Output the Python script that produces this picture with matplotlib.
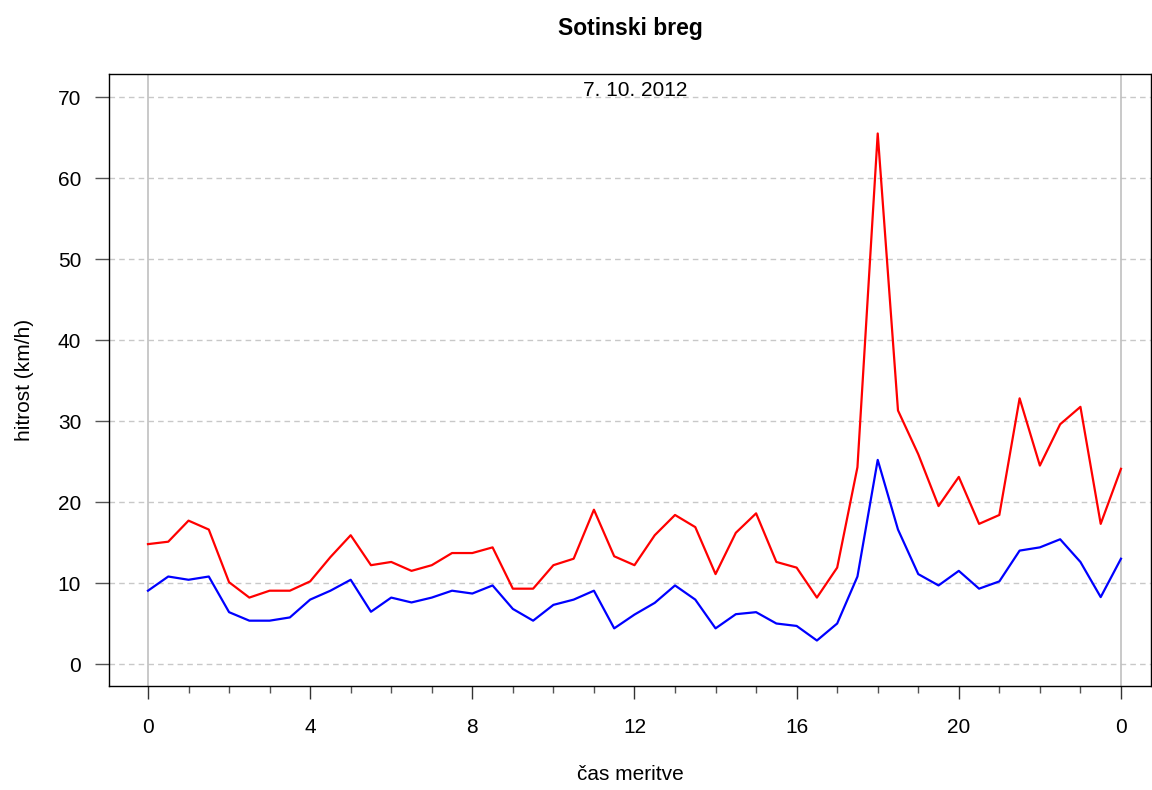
import numpy as np
import matplotlib
matplotlib.use("Agg")
import matplotlib.pyplot as plt

plt.rcParams['font.family'] = ['Liberation Sans', 'DejaVu Sans']

# half-hour measurements, 0:00 to 24:00
ura = np.arange(49) * 0.5
sunki = [14.8, 15.1, 17.7, 16.6, 10.1, 8.2, 9.05, 9.05, 10.2, 13.2,
         15.9, 12.2, 12.6, 11.5, 12.2, 13.7, 13.7, 14.4, 9.3, 9.3,
         12.2, 13.0, 19.05, 13.3, 12.2, 15.9, 18.4, 16.9, 11.1, 16.2,
         18.6, 12.6, 11.9, 8.2, 11.9, 24.3, 65.5, 31.3, 25.9, 19.5,
         23.1, 17.3, 18.4, 32.8, 24.5, 29.6, 31.75, 17.3, 24.1]
povprecje = [9.05, 10.8, 10.4, 10.8, 6.4, 5.35, 5.35, 5.75, 7.95, 9.05,
             10.4, 6.45, 8.2, 7.6, 8.2, 9.05, 8.7, 9.7, 6.8, 5.35,
             7.3, 7.95, 9.05, 4.4, 6.1, 7.55, 9.7, 7.95, 4.4, 6.15,
             6.4, 5.0, 4.7, 2.9, 5.0, 10.8, 25.2, 16.6, 11.1, 9.7,
             11.5, 9.3, 10.2, 14.0, 14.4, 15.4, 12.6, 8.26, 13.0]
xticks = [0, 4, 8, 12, 16, 20, 24]
xticklabels = ['0', '4', '8', '12', '16', '20', '0']
yticks = [0, 10, 20, 30, 40, 50, 60, 70]

fig = plt.figure(figsize=(11.52, 7.9), dpi=100)
ax = fig.add_axes([0.0946, 0.1316, 0.9045, 0.7747])

for y in yticks:
    ax.axhline(y, color='#c8c8c8', lw=1, ls=(0, (4, 3)), zorder=0)
for x in [0, 24]:
    ax.axvline(x, color='#c0c0c0', lw=1.2, zorder=0)

ax.plot(ura, sunki, color='#ff0000', lw=1.6)
ax.plot(ura, povprecje, color='#0000ff', lw=1.6)

ax.set_xlim(-0.962, 24.74)
ax.set_ylim(-2.72, 72.84)

ax.set_xticks(xticks)
ax.set_xticklabels(xticklabels, fontsize=15)
ax.set_xticks(np.arange(0, 25, 1), minor=True)
ax.set_yticks(yticks)
ax.set_yticklabels([str(v) for v in yticks], fontsize=15)
ax.tick_params(axis='x', which='major', length=9, width=1, color='#333333', pad=14)
ax.tick_params(axis='x', which='minor', length=5, width=1, color='#555555')
ax.tick_params(axis='y', which='major', length=10, width=1, color='#555555', pad=10)

for s in ax.spines.values():
    s.set_linewidth(1)
    s.set_color('black')

ax.set_xlabel('čas meritve', fontsize=15, labelpad=20)
ax.set_ylabel('hitrost (km/h)', fontsize=15, labelpad=17)
ax.set_title('Sotinski breg', fontsize=16.5, fontweight='bold', pad=28)
ax.text(0.505, 0.988, '7. 10. 2012', transform=ax.transAxes, ha='center', va='top', fontsize=15)

fig.savefig('out.png', dpi=100)
